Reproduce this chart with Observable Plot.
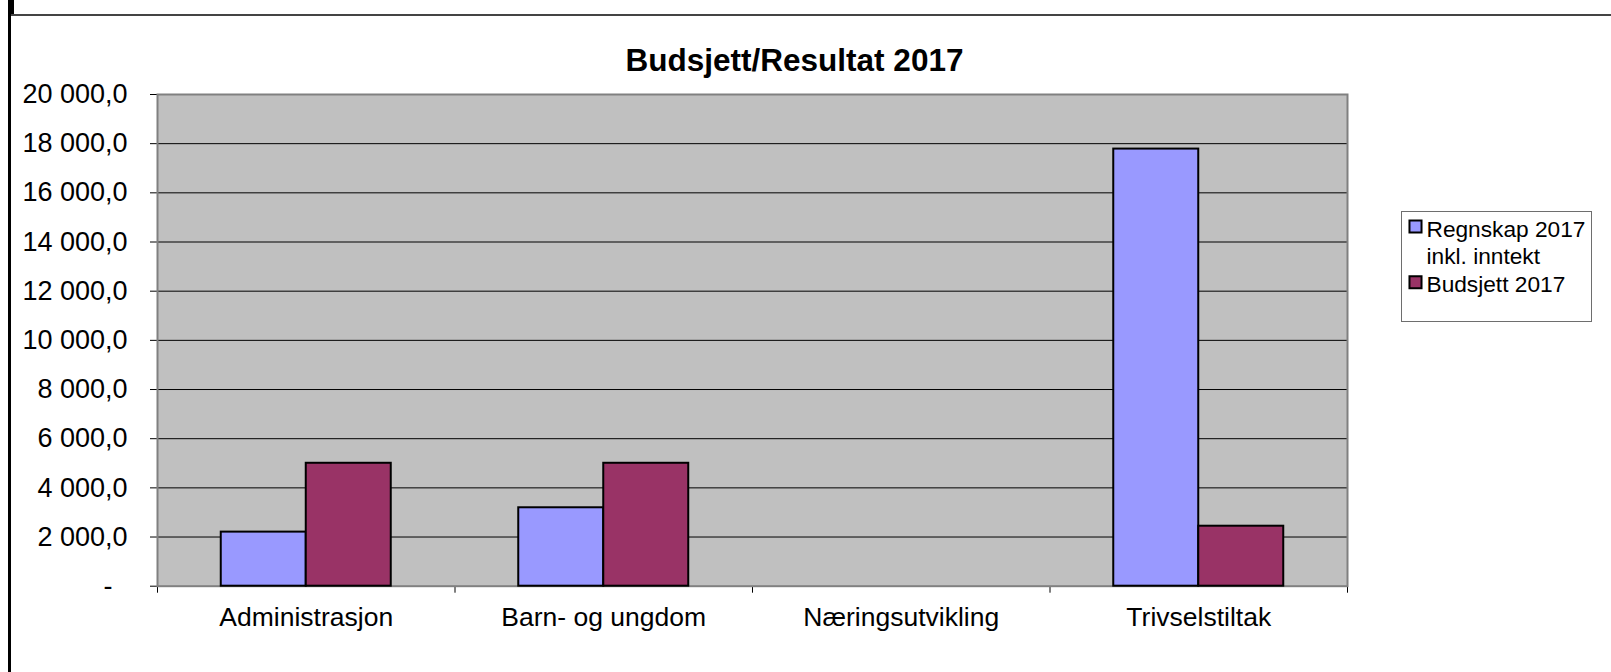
<!DOCTYPE html>
<html>
<head>
<meta charset="utf-8">
<script src="https://cdn.jsdelivr.net/npm/d3@7"></script>
<script src="https://cdn.jsdelivr.net/npm/@observablehq/plot@0.6"></script>
<style>
  html, body { margin: 0; padding: 0; background: #fff; }
  #wrap { position: relative; width: 1611px; height: 672px; overflow: hidden; }
  .abs { position: absolute; }
</style>
</head>
<body>
<div id="wrap"></div>
<script>
// ---- data ----
const title = "Budsjett/Resultat 2017";
const categories = ["Administrasjon", "Barn- og ungdom", "Næringsutvikling", "Trivselstiltak"];
const seriesNames = ["Regnskap 2017 inkl. inntekt", "Budsjett 2017"];
const legendText = "Regnskap 2017\ninkl. inntekt\nBudsjett 2017";
const regnskap = [2200, 3190, null, 17780];
const budsjett = [5000, 5000, null, 2440];
const seriesColors = ["#9999ff", "#993366"];
const yTicks = [0, 2000, 4000, 6000, 8000, 10000, 12000, 14000, 16000, 18000, 20000];
const xBoundaries = [0, 1, 2, 3, 4];

// ---- table built from arrays ----
const seriesValues = [regnskap, budsjett];
const rows = [];
categories.forEach((c, ci) => {
  seriesValues.forEach((vals, si) => {
    if (vals[ci] != null) rows.push({category: c, ci, si, series: seriesNames[si], value: vals[ci]});
  });
});

const gap = 1.5; // Excel gap width 150%
const nb = seriesNames.length;
const x1 = d => d.ci + (gap / 2 + d.si) / (nb + gap);
const x2 = d => d.ci + (gap / 2 + d.si + 1) / (nb + gap);

const locale = d3.formatLocale({decimal: ",", thousands: " ", grouping: [3], currency: ["", ""]});
const fmt = locale.format(",.1f");
const yFormat = v => v === 0 ? "-\u00a0\u00a0" : fmt(v);

const FONT = "'Liberation Sans', Arial, sans-serif";
const legendSwatchDy = [132, 187.7];

const chart = Plot.plot({
  width: 1611,
  height: 672,
  marginLeft: 157,
  marginRight: 264,
  marginTop: 94,
  marginBottom: 86.3,
  style: {background: "transparent", color: "#000", fontFamily: FONT, fontSize: "27px"},
  x: {domain: [0, categories.length], ticks: xBoundaries, tickFormat: () => "", tickSize: 7, label: null},
  y: {domain: [0, 20000], ticks: yTicks, tickFormat: yFormat, tickSize: 7, tickPadding: 23, label: null},
  color: {domain: seriesNames, range: seriesColors},
  marks: [
    Plot.frame({fill: "#c0c0c0", stroke: null}),
    Plot.ruleY(yTicks.filter(v => v > 0 && v < 20000), {stroke: "#000", strokeWidth: 1}),
    Plot.frame({stroke: "#808080", strokeWidth: 2}),
    Plot.rectY(rows, {x1, x2, y: "value", fill: "series", stroke: "#000", strokeWidth: 2}),
    Plot.text(categories, {x: (d, i) => i + 0.5, text: d => d, frameAnchor: "bottom", lineAnchor: "top", dy: 21, fontSize: 26.5, fill: "#000"}),
    Plot.text([title], {frameAnchor: "top", lineAnchor: "top", dy: -46.3, dx: 42, fontSize: 31.5, fontWeight: "bold", fill: "#000"}),
    // legend (positioned relative to the plot frame's top-right corner)
    Plot.text([legendText], {frameAnchor: "top-right", textAnchor: "start", lineAnchor: "top", lineHeight: 1.2, dx: 79, dy: 123.3, fontSize: 22.7, fill: "#000"}),
    ...seriesColors.map((c, i) => Plot.dot([seriesNames[i]], {frameAnchor: "top-right", dx: 68, dy: legendSwatchDy[i], symbol: "square", r: 6.8, fill: c, stroke: "#000", strokeWidth: 2}))
  ]
});

const wrap = document.getElementById("wrap");
wrap.appendChild(chart);

function box(css) { const d = document.createElement("div"); d.className = "abs"; Object.assign(d.style, css); wrap.appendChild(d); return d; }
// window/sheet borders
box({left: "8px", top: "0px", width: "3px", height: "672px", background: "#000"});
box({left: "8px", top: "0px", width: "6px", height: "15px", background: "#000"});
box({left: "11px", top: "14px", width: "1600px", height: "2px", background: "#444"});
// legend border
box({left: "1401px", top: "211px", width: "189px", height: "109px", border: "1.5px solid #6e6e6e", background: "transparent"});
</script>
</body>
</html>
